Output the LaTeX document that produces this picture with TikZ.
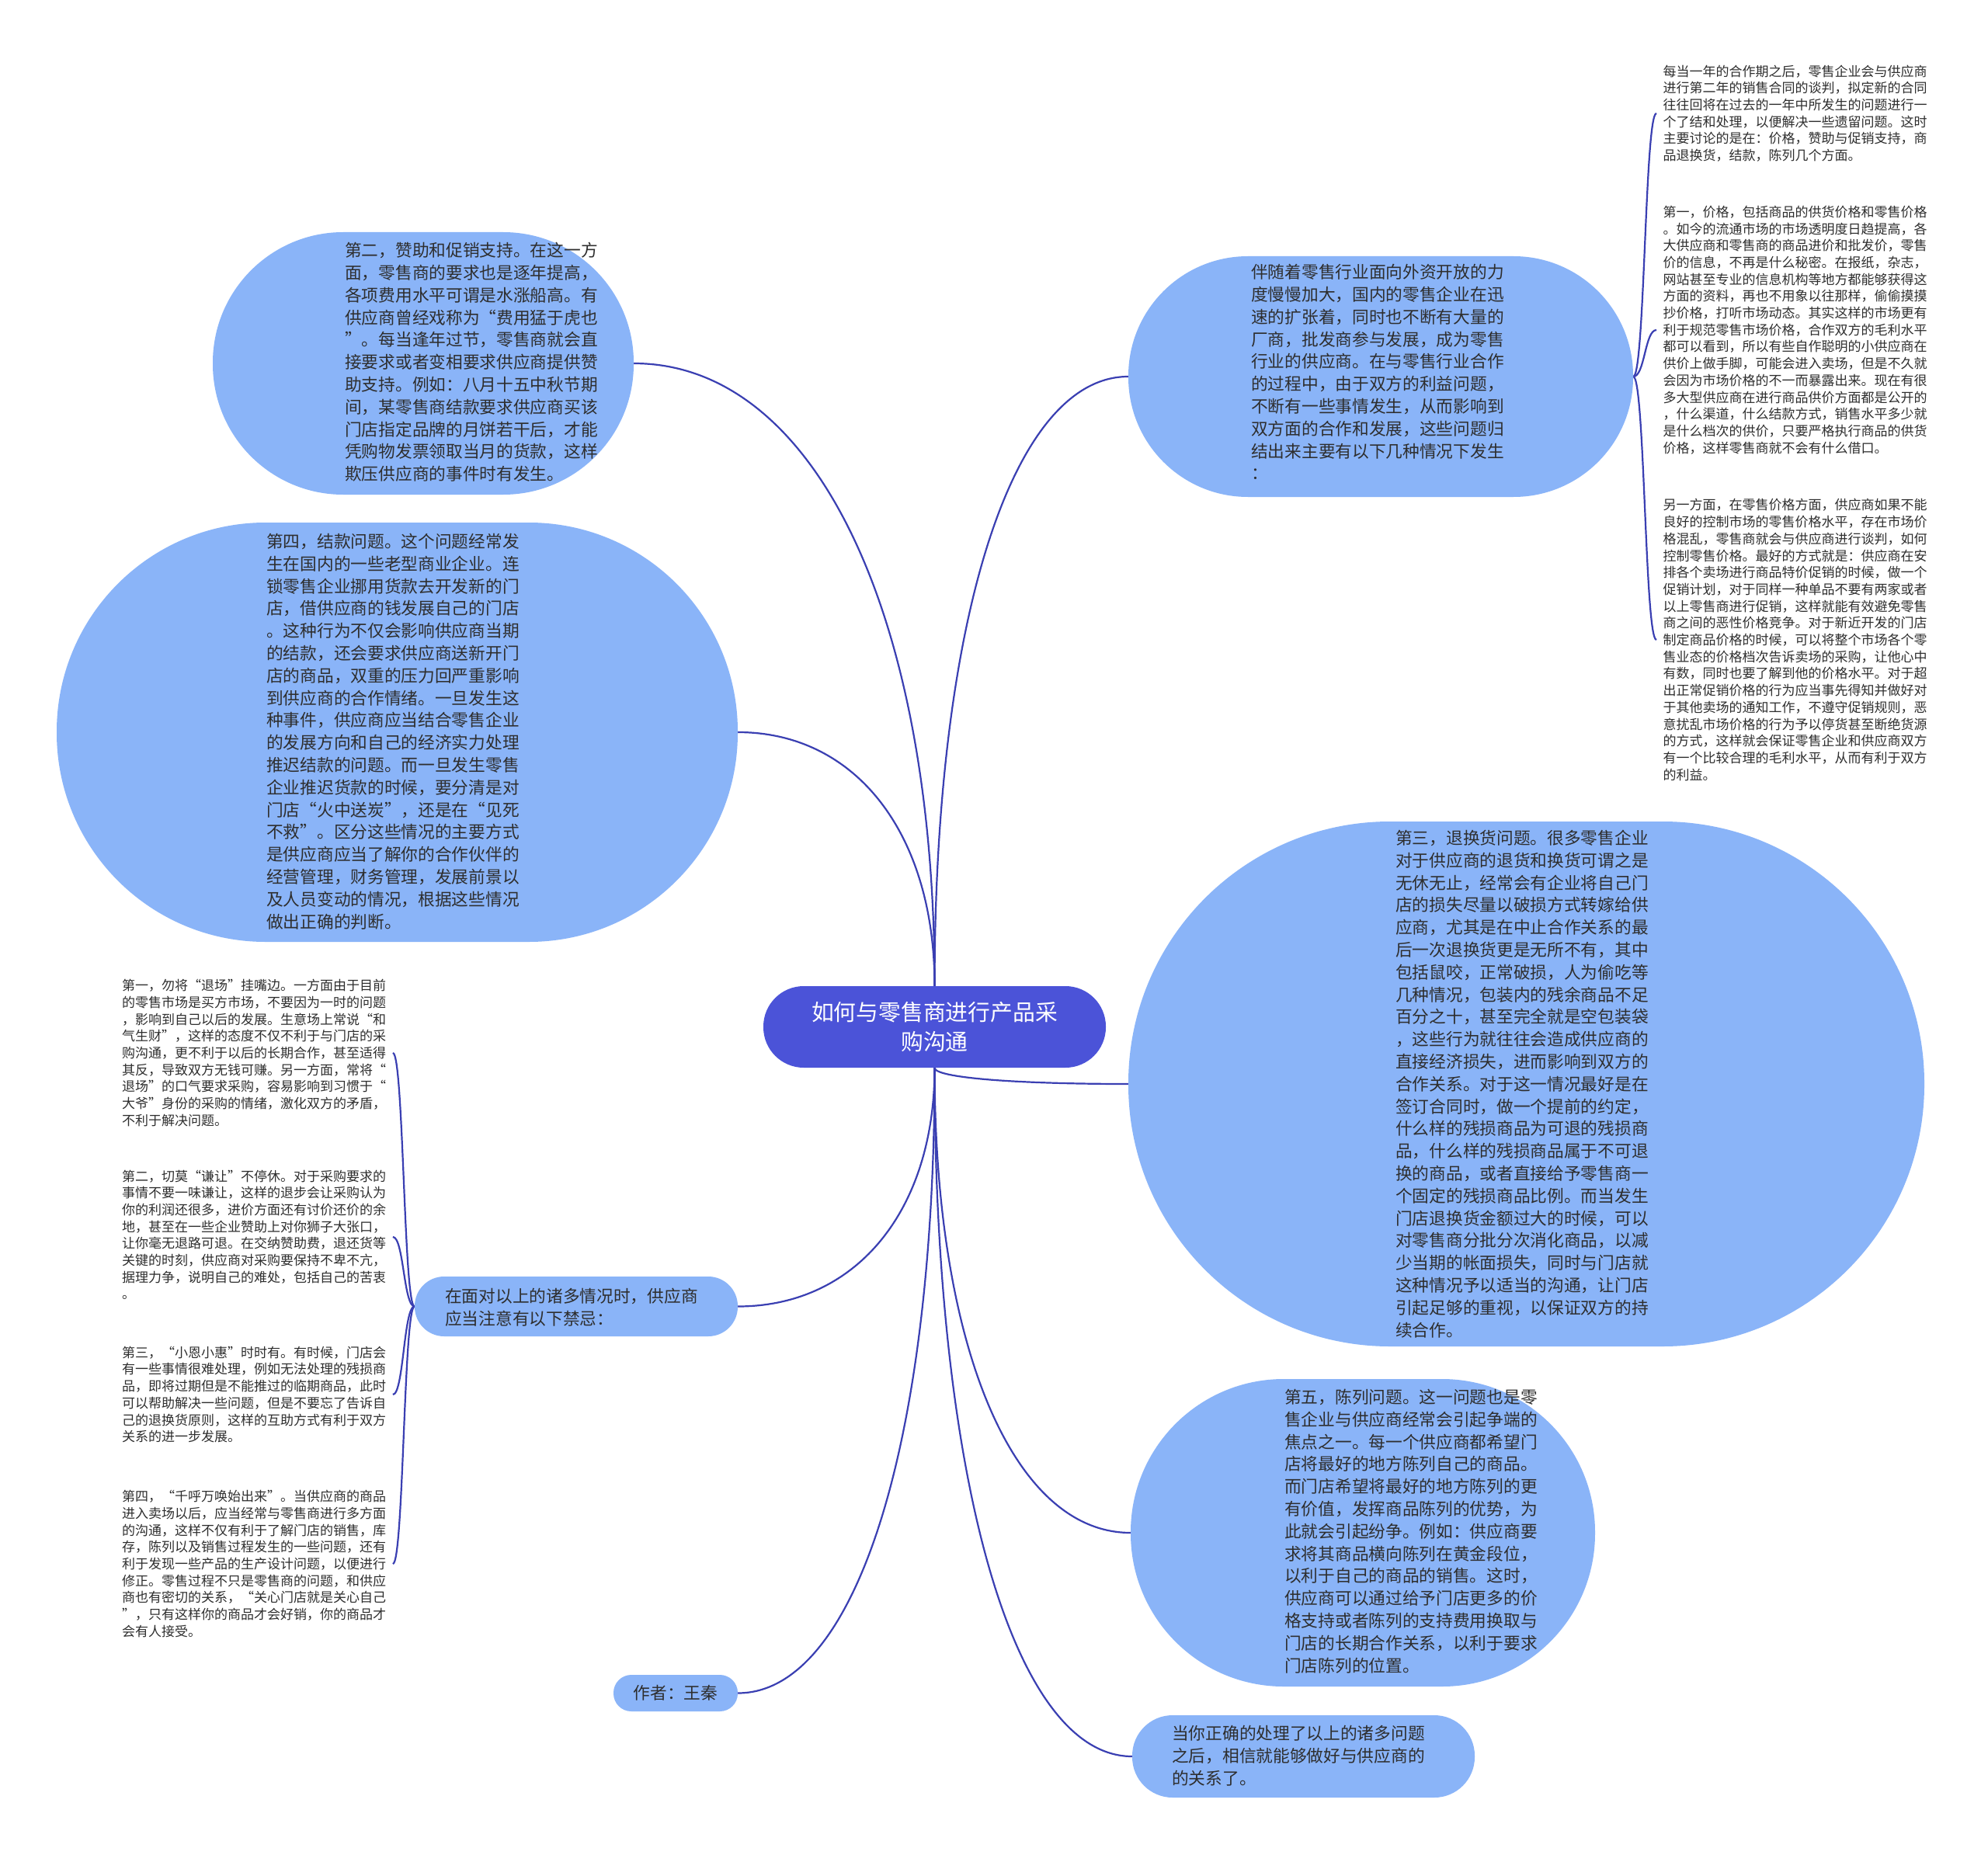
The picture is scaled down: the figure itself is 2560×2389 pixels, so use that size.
\documentclass[tikz,border=0pt]{standalone}
\usepackage{fontspec}
\setmainfont{Noto Sans CJK SC}
\usetikzlibrary{calc}
\definecolor{nodefill}{HTML}{8AB4F8}
\definecolor{rootfill}{HTML}{4B53D8}
\definecolor{linkcol}{HTML}{3A3FB2}
\definecolor{txtcol}{HTML}{2E2E2E}
\pgfdeclarelayer{bg}
\pgfsetlayers{bg,main}
\begin{document}
\begin{tikzpicture}[x=1pt,y=-1pt,
  bubble/.style={fill=nodefill, draw=none, inner sep=0pt, rounded corners=#1},
  mtext/.style={inner sep=0pt, align=left, text=txtcol, font=\fontsize{21.7}{28.8}\selectfont},
  leaf/.style={inner xsep=8.5pt, inner ysep=0pt, align=left, text=txtcol, font=\fontsize{17}{21.7}\selectfont},
  rootnode/.style={fill=rootfill, text=white, draw=none, inner sep=0pt, rounded corners=52pt,
    minimum width=441pt, minimum height=105pt, align=center, font=\fontsize{28.8}{37.5}\selectfont},
  link/.style={draw=linkcol, line width=2.2pt},
  curvelink/.style={to path={.. controls ($(\tikztostart)!0.6!(\tikztostart|-\tikztotarget)$) and ($(\tikztotarget)!0.6!(\tikztostart|-\tikztotarget)$) .. (\tikztotarget)}},
  leaflink/.style={to path={.. controls ($(\tikztostart)!0.5!(\tikztotarget|-\tikztostart)$) and ($(\tikztotarget)!0.5!(\tikztostart|-\tikztotarget)$) .. (\tikztotarget)}}
]
\useasboundingbox (0,0) rectangle (2560,2389);
\begin{pgfonlayer}{bg}
\fill[white] (0,0) rectangle (2560,2389);
\end{pgfonlayer}

% root
\node[rootnode] (root) at (1203.5,1322.5) {如何与零售商进行产品采\\购沟通};

% big nodes (shapes)
\node[bubble=168pt, minimum width=542pt, minimum height=338pt] (A) at (545,468) {};
\node[bubble=269pt, minimum width=877pt, minimum height=540pt] (B) at (511.5,943) {};
\node[bubble=154pt, minimum width=650pt, minimum height=310pt] (C) at (1778,485) {};
\node[bubble=337pt, minimum width=1025pt, minimum height=676pt] (D) at (1965.5,1396) {};
\node[bubble=197pt, minimum width=598pt, minimum height=396pt] (E) at (1755,1974) {};
\node[bubble=52pt, minimum width=441pt, minimum height=106pt] (F) at (1678.5,2262) {};
\node[bubble=38pt, minimum width=416pt, minimum height=77pt] (G) at (742,1682.5) {};
\node[bubble=23pt, minimum width=160pt, minimum height=47pt, mtext] (H) at (870,2180.5) {作者：王秦};

% texts of big nodes
\node[mtext, anchor=west] (At) at (444,466.5) {第二，赞助和促销支持。在这一方\\面，零售商的要求也是逐年提高，\\各项费用水平可谓是水涨船高。有\\供应商曾经戏称为“费用猛于虎也\\”。每当逢年过节，零售商就会直\\接要求或者变相要求供应商提供赞\\助支持。例如：八月十五中秋节期\\间，某零售商结款要求供应商买该\\门店指定品牌的月饼若干后，才能\\凭购物发票领取当月的货款，这样\\欺压供应商的事件时有发生。};
\node[mtext, anchor=west] (Bt) at (343,942) {第四，结款问题。这个问题经常发\\生在国内的一些老型商业企业。连\\锁零售企业挪用货款去开发新的门\\店，借供应商的钱发展自己的门店\\。这种行为不仅会影响供应商当期\\的结款，还会要求供应商送新开门\\店的商品，双重的压力回严重影响\\到供应商的合作情绪。一旦发生这\\种事件，供应商应当结合零售企业\\的发展方向和自己的经济实力处理\\推迟结款的问题。而一旦发生零售\\企业推迟货款的时候，要分清是对\\门店“火中送炭”，还是在“见死\\不救”。区分这些情况的主要方式\\是供应商应当了解你的合作伙伴的\\经营管理，财务管理，发展前景以\\及人员变动的情况，根据这些情况\\做出正确的判断。};
\node[mtext, anchor=west] (Ct) at (1611,483.5) {伴随着零售行业面向外资开放的力\\度慢慢加大，国内的零售企业在迅\\速的扩张着，同时也不断有大量的\\厂商，批发商参与发展，成为零售\\行业的供应商。在与零售行业合作\\的过程中，由于双方的利益问题，\\不断有一些事情发生，从而影响到\\双方面的合作和发展，这些问题归\\结出来主要有以下几种情况下发生\\：\strut};
\node[mtext, anchor=west] (Dt) at (1797,1396) {第三，退换货问题。很多零售企业\\对于供应商的退货和换货可谓之是\\无休无止，经常会有企业将自己门\\店的损失尽量以破损方式转嫁给供\\应商，尤其是在中止合作关系的最\\后一次退换货更是无所不有，其中\\包括鼠咬，正常破损，人为偷吃等\\几种情况，包装内的残余商品不足\\百分之十，甚至完全就是空包装袋\\，这些行为就往往会造成供应商的\\直接经济损失，进而影响到双方的\\合作关系。对于这一情况最好是在\\签订合同时，做一个提前的约定，\\什么样的残损商品为可退的残损商\\品，什么样的残损商品属于不可退\\换的商品，或者直接给予零售商一\\个固定的残损商品比例。而当发生\\门店退换货金额过大的时候，可以\\对零售商分批分次消化商品，以减\\少当期的帐面损失，同时与门店就\\这种情况予以适当的沟通，让门店\\引起足够的重视，以保证双方的持\\续合作。};
\node[mtext, anchor=west] (Et) at (1654,1972) {第五，陈列问题。这一问题也是零\\售企业与供应商经常会引起争端的\\焦点之一。每一个供应商都希望门\\店将最好的地方陈列自己的商品。\\而门店希望将最好的地方陈列的更\\有价值，发挥商品陈列的优势，为\\此就会引起纷争。例如：供应商要\\求将其商品横向陈列在黄金段位，\\以利于自己的商品的销售。这时，\\供应商可以通过给予门店更多的价\\格支持或者陈列的支持费用换取与\\门店的长期合作关系，以利于要求\\门店陈列的位置。};
\node[mtext, anchor=west] (Ft) at (1509,2261) {当你正确的处理了以上的诸多问题\\之后，相信就能够做好与供应商的\\的关系了。};
\node[mtext, anchor=west] (Gt) at (573,1683.5) {在面对以上的诸多情况时，供应商\\应当注意有以下禁忌：};

% right leaves
\node[leaf, anchor=west] (R1) at (2133,146) {每当一年的合作期之后，零售企业会与供应商\\进行第二年的销售合同的谈判，拟定新的合同\\往往回将在过去的一年中所发生的问题进行一\\个了结和处理，以便解决一些遗留问题。这时\\主要讨论的是在：价格，赞助与促销支持，商\\品退换货，结款，陈列几个方面。};
\node[leaf, anchor=west] (R2) at (2133,425) {第一，价格，包括商品的供货价格和零售价格\\。如今的流通市场的市场透明度日趋提高，各\\大供应商和零售商的商品进价和批发价，零售\\价的信息，不再是什么秘密。在报纸，杂志，\\网站甚至专业的信息机构等地方都能够获得这\\方面的资料，再也不用象以往那样，偷偷摸摸\\抄价格，打听市场动态。其实这样的市场更有\\利于规范零售市场价格，合作双方的毛利水平\\都可以看到，所以有些自作聪明的小供应商在\\供价上做手脚，可能会进入卖场，但是不久就\\会因为市场价格的不一而暴露出来。现在有很\\多大型供应商在进行商品供价方面都是公开的\\，什么渠道，什么结款方式，销售水平多少就\\是什么档次的供价，只要严格执行商品的供货\\价格，这样零售商就不会有什么借口。};
\node[leaf, anchor=west] (R3) at (2133,824) {另一方面，在零售价格方面，供应商如果不能\\良好的控制市场的零售价格水平，存在市场价\\格混乱，零售商就会与供应商进行谈判，如何\\控制零售价格。最好的方式就是：供应商在安\\排各个卖场进行商品特价促销的时候，做一个\\促销计划，对于同样一种单品不要有两家或者\\以上零售商进行促销，这样就能有效避免零售\\商之间的恶性价格竞争。对于新近开发的门店\\制定商品价格的时候，可以将整个市场各个零\\售业态的价格档次告诉卖场的采购，让他心中\\有数，同时也要了解到他的价格水平。对于超\\出正常促销价格的行为应当事先得知并做好对\\于其他卖场的通知工作，不遵守促销规则，恶\\意扰乱市场价格的行为予以停货甚至断绝货源\\的方式，这样就会保证零售企业和供应商双方\\有一个比较合理的毛利水平，从而有利于双方\\的利益。};

% left leaves
\node[leaf, anchor=west] (L1) at (148.5,1356) {第一，勿将“退场”挂嘴边。一方面由于目前\\的零售市场是买方市场，不要因为一时的问题\\，影响到自己以后的发展。生意场上常说“和\\气生财”，这样的态度不仅不利于与门店的采\\购沟通，更不利于以后的长期合作，甚至适得\\其反，导致双方无钱可赚。另一方面，常将“\\退场”的口气要求采购，容易影响到习惯于“\\大爷”身份的采购的情绪，激化双方的矛盾，\\不利于解决问题。};
\node[leaf, anchor=west] (L2) at (148.5,1593) {第二，切莫“谦让”不停休。对于采购要求的\\事情不要一味谦让，这样的退步会让采购认为\\你的利润还很多，进价方面还有讨价还价的余\\地，甚至在一些企业赞助上对你狮子大张口，\\让你毫无退路可退。在交纳赞助费，退还货等\\关键的时刻，供应商对采购要保持不卑不亢，\\据理力争，说明自己的难处，包括自己的苦衷\\。\strut};
\node[leaf, anchor=west] (L3) at (148.5,1796) {第三，“小恩小惠”时时有。有时候，门店会\\有一些事情很难处理，例如无法处理的残损商\\品，即将过期但是不能推过的临期商品，此时\\可以帮助解决一些问题，但是不要忘了告诉自\\己的退换货原则，这样的互助方式有利于双方\\关系的进一步发展。};
\node[leaf, anchor=west] (L4) at (148.5,2014) {第四，“千呼万唤始出来”。当供应商的商品\\进入卖场以后，应当经常与零售商进行多方面\\的沟通，这样不仅有利于了解门店的销售，库\\存，陈列以及销售过程发生的一些问题，还有\\利于发现一些产品的生产设计问题，以便进行\\修正。零售过程不只是零售商的问题，和供应\\商也有密切的关系，“关心门店就是关心自己\\”，只有这样你的商品才会好销，你的商品才\\会有人接受。};

% connectors
\begin{pgfonlayer}{bg}
\draw[link] (root.north) to[curvelink] (A.east);
\draw[link] (root.north) to[curvelink] (B.east);
\draw[link] (root.north) to[curvelink] (C.west);
\draw[link] (root.south) to[curvelink] (D.west);
\draw[link] (root.south) to[curvelink] (E.west);
\draw[link] (root.south) to[curvelink] (F.west);
\draw[link] (root.south) to[curvelink] (G.east);
\draw[link] (root.south) to[curvelink] (H.east);
\draw[link] (C.east) to[leaflink] (R1.west);
\draw[link] (C.east) to[leaflink] (R2.west);
\draw[link] (C.east) to[leaflink] (R3.west);
\draw[link] (G.west) to[leaflink] (L1.east);
\draw[link] (G.west) to[leaflink] (L2.east);
\draw[link] (G.west) to[leaflink] (L3.east);
\draw[link] (G.west) to[leaflink] (L4.east);
\end{pgfonlayer}
\end{tikzpicture}
\end{document}
